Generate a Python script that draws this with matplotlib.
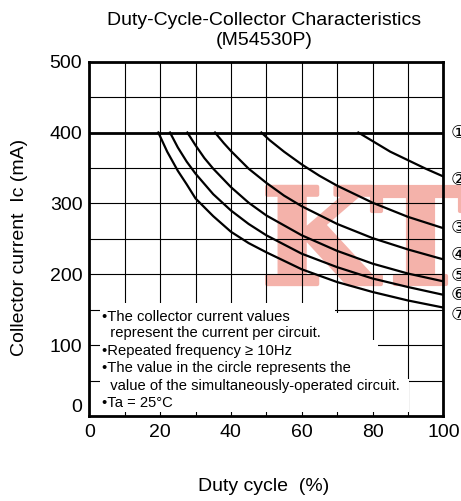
import matplotlib
matplotlib.use('Agg')
import matplotlib.pyplot as plt
import matplotlib.patheffects as pe
from matplotlib.patches import Polygon

plt.rcParams['font.family'] = ['Liberation Sans', 'DejaVu Sans']

# curves: duty cycle (%) -> collector current (mA)
duty_2 = [76, 78, 80, 85, 90, 95, 100]
ic_2 = [400, 394, 388, 373, 361, 349, 338]

duty_3 = [48.6, 51, 55, 60, 65, 70, 80, 90, 100]
ic_3 = [400, 389, 373, 355, 339, 325, 301, 281, 265]

duty_4 = [35.5, 38, 40, 45, 50, 55, 60, 70, 80, 90, 100]
ic_4 = [400, 385, 374, 349, 329, 311, 296, 271, 251, 235, 221]

duty_5 = [27.7, 30, 32.5, 35, 40, 45, 50, 60, 70, 80, 90, 100]
ic_5 = [400, 382, 364, 349, 323, 301, 283, 255, 233, 215, 201, 190]

duty_6 = [22.8, 25, 27.5, 30, 35, 40, 45, 50, 60, 70, 80, 90, 100]
ic_6 = [400, 379, 359, 342, 313, 290, 271, 255, 229, 210, 194, 182, 171]

duty_7 = [19.5, 22, 25, 27.5, 30, 35, 40, 45, 50, 60, 70, 80, 90, 100]
ic_7 = [400, 373, 346, 327, 307, 282, 260, 244, 231, 207, 189, 175, 163, 153]

ic_limit = 400  # curve 1: flat limit line

circle_labels = ['①', '②', '③', '④', '⑤', '⑥', '⑦']
circle_label_y = [399, 333, 265, 227, 198, 171, 143]

notes = [
    '•The collector current values',
    '  represent the current per circuit.',
    '•Repeated frequency ≥ 10Hz',
    '•The value in the circle represents the',
    '  value of the simultaneously-operated circuit.',
    '•Ta = 25°C',
]
notes_y = [140, 116.5, 92, 68, 42.5, 18]

fig = plt.figure(figsize=(4.61, 5.01), dpi=100)

# background layer for the watermark, under the chart
bg = fig.add_axes([0, 0, 1, 1], zorder=-1)
bg.set_axis_off()
wm_color = '#F4B2AA'
for ch, xf in [('K', 0.566), ('T', 0.804)]:
    bg.text(xf, 0.433, ch, fontsize=96, family='DejaVu Serif',
            fontweight='bold', color=wm_color, ha='left', va='baseline',
            path_effects=[pe.withStroke(linewidth=3, foreground=wm_color)])

ax = fig.add_axes([0.1937, 0.1697, 0.768, 0.7072])
ax.set_facecolor('none')

ax.set_xlim(0, 100)
ax.set_ylim(0, 500)
ax.set_xticks([0, 20, 40, 60, 80, 100])
ax.set_xticks(range(10, 100, 20), minor=True)
ax.set_yticks([0, 100, 200, 300, 400, 500])
ax.set_yticks(range(50, 500, 100), minor=True)
ax.tick_params(which='both', length=0, labelsize=14)
ax.tick_params(axis='x', pad=5.5)
ax.tick_params(axis='y', pad=5)
ax.yaxis.get_majorticklabels()[0].set_va('bottom')

ax.set_axisbelow(True)
ax.grid(which='both', color='black', lw=0.8)
for s in ax.spines.values():
    s.set_linewidth(2.0)

# white area behind the notes (hides the grid there)
mask = Polygon([(3, 6), (3, 160), (69.5, 160), (69.5, 145), (79.5, 145),
                (79.5, 107), (81.5, 107), (81.5, 52), (90.3, 52), (90.3, 6)],
               closed=True, facecolor='white', edgecolor='none', zorder=1)
ax.add_patch(mask)

ax.axhline(ic_limit, color='black', lw=2.0, zorder=3)
for d, ic in [(duty_2, ic_2), (duty_3, ic_3), (duty_4, ic_4),
              (duty_5, ic_5), (duty_6, ic_6), (duty_7, ic_7)]:
    ax.plot(d, ic, color='black', lw=1.6, zorder=3)

for lab, yv in zip(circle_labels, circle_label_y):
    ax.text(102.0, yv, lab, fontsize=13, family=['DejaVu Sans'],
            ha='left', va='center', clip_on=False)

for line, yv in zip(notes, notes_y):
    ax.text(3.5, yv, line, fontsize=10.6, ha='left', va='center', zorder=4)

fig.text(0.572, 0.960, 'Duty-Cycle-Collector Characteristics', fontsize=14,
         ha='center', va='center')
fig.text(0.572, 0.919, '(M54530P)', fontsize=14, ha='center', va='center')
fig.text(0.571, 0.028, 'Duty cycle  (%)', fontsize=14, ha='center', va='center')
fig.text(0.043, 0.506, 'Collector current  Ic (mA)', fontsize=14,
         rotation=90, ha='center', va='center')

fig.savefig('out.png', dpi=100)
